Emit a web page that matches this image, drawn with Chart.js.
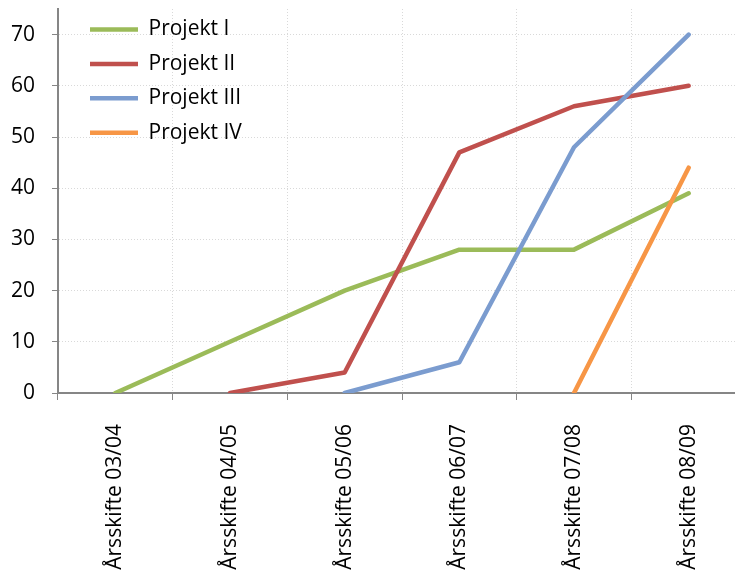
<!DOCTYPE html>
<html>
<head>
<meta charset="utf-8">
<script src="https://cdn.jsdelivr.net/npm/chart.js@4.4.1/dist/chart.umd.min.js"></script>
<style>
  html, body { margin: 0; padding: 0; background: #fff; overflow: hidden; }
  #wrap { width: 746px; height: 571px; }
</style>
</head>
<body>
<div id="wrap"><canvas id="lineChart"></canvas></div>
<script>
// Kategorier och värden
const categories = ['Årsskifte 03/04', 'Årsskifte 04/05', 'Årsskifte 05/06', 'Årsskifte 06/07', 'Årsskifte 07/08', 'Årsskifte 08/09'];
const projekt1 = [0, 10, 20, 28, 28, 39];
const projekt2 = [null, 0, 4, 47, 56, 60];
const projekt3 = [null, null, 0, 6, 48, 70];
const projekt4 = [null, null, null, null, 0, 44];
const yTicks = [0, 10, 20, 30, 40, 50, 60, 70];

const font = "'Open Sans', 'Noto Sans', sans-serif";

function serie(label, data, color, order) {
    return {
        label: label,
        data: data,
        borderColor: color,
        backgroundColor: color,
        borderWidth: 4.5,
        borderCapStyle: 'round',
        borderJoinStyle: 'round',
        pointRadius: 0,
        pointHoverRadius: 0,
        tension: 0,
        spanGaps: false,
        order: order
    };
}

// flyttar legenden till rätt plats inne i diagrammet
const legendShift = {
    id: 'legendShift',
    afterLayout(chart) {
        const lg = chart.legend;
        if (!lg) return;
        lg.left = chart.chartArea.left + 18.6;
        lg.top = chart.chartArea.top - 3.4;
    }
};

window.onload = function() {
    window.lineChart = new Chart(document.getElementById('lineChart'), {
        type: 'line',
        data: {
            labels: categories,
            datasets: [
                serie('Projekt I', projekt1, '#9BBB59', 4),
                serie('Projekt II', projekt2, '#C0504D', 3),
                serie('Projekt III', projekt3, '#7B9CCF', 2),
                serie('Projekt IV', projekt4, '#F79646', 1)
            ]
        },
        options: {
            responsive: true,
            maintainAspectRatio: false,
            animation: false,
            layout: { padding: { top: 9, right: 0, left: 0, bottom: 0 } },
            plugins: {
                tooltip: { enabled: false },
                legend: {
                    position: 'chartArea',
                    align: 'start',
                    labels: {
                        usePointStyle: true,
                        pointStyle: 'line',
                        pointStyleWidth: 48,
                        padding: 13.4,
                        color: '#000',
                        font: { family: font, size: 21 },
                        sort: (a, b) => a.datasetIndex - b.datasetIndex
                    }
                }
            },
            scales: {
                x: {
                    offset: true,
                    grid: {
                        offset: true,
                        color: '#D9D9D9',
                        tickColor: '#868686',
                        tickLength: 7,
                        lineWidth: 1
                    },
                    border: { color: '#868686', width: 2, dash: [1, 2] },
                    ticks: {
                        autoSkip: false,
                        minRotation: 90,
                        maxRotation: 90,
                        padding: 24,
                        color: '#000',
                        font: { family: font, size: 21 }
                    },
                    afterFit(scale) {
                        scale.height = 178;
                        scale.paddingLeft = 0;
                        scale.paddingRight = 0;
                    }
                },
                y: {
                    min: 0,
                    max: 75,
                    grid: {
                        color: '#D9D9D9',
                        tickColor: '#868686',
                        tickLength: 6,
                        lineWidth: 1
                    },
                    border: { color: '#868686', width: 2, dash: [1, 2] },
                    afterBuildTicks(scale) {
                        scale.ticks = yTicks.map(v => ({ value: v }));
                    },
                    ticks: {
                        padding: 17,
                        color: '#000',
                        font: { family: font, size: 21 }
                    },
                    afterFit(scale) {
                        scale.width = 58;
                        scale.paddingTop = 0;
                        scale.paddingBottom = 0;
                    }
                }
            }
        },
        plugins: [legendShift]
    });
};
</script>
</body>
</html>
